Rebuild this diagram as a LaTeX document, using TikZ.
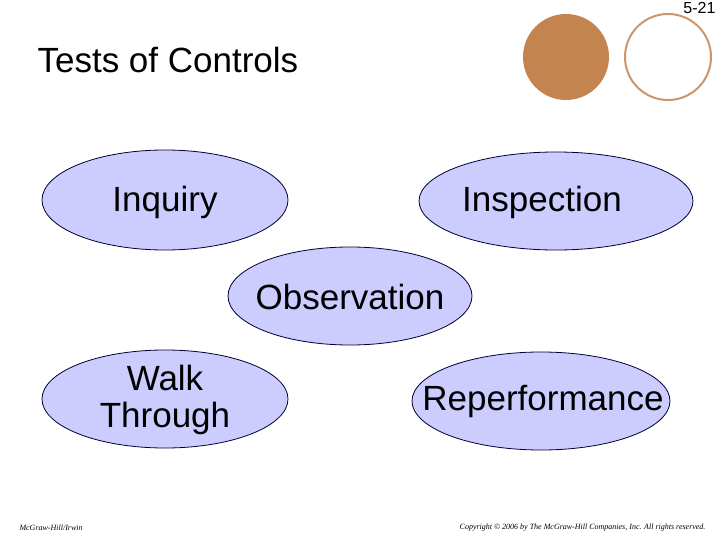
\documentclass[tikz,border=0pt]{standalone}
\usepackage{fontspec}
\setmainfont{Liberation Sans}
\newfontfamily\footfont{Liberation Serif}
\begin{document}
\begin{tikzpicture}[x=1pt,y=-1pt,
  ov/.style={draw=black!80!blue,line width=0.8pt,fill=blue!20!white},
  lbl/.style={font=\fontsize{35}{37}\selectfont,align=center},
  foot/.style={font=\footfont\itshape\fontsize{8}{9}\selectfont}]
\useasboundingbox (0,0) rectangle (720,540);
\definecolor{tan}{RGB}{196,132,80}
\node[circle,fill=tan,minimum size=86pt,inner sep=0pt] (c1) at (566,57) {};
\node[circle,draw=tan!85!white,line width=2pt,minimum size=86pt,inner sep=0pt] (c2) at (668,57) {};
\node[anchor=north east,font=\fontsize{16}{18}\selectfont] (num) at (719,-1) {5-21};
\node[anchor=west,font=\fontsize{35}{40}\selectfont] (title) at (34,60) {Tests of Controls};
\draw[ov] (165,200) ellipse (123 and 50);
\node[lbl] (inq) at (165,202) {Inquiry};
\draw[ov] (556,201) ellipse (137 and 49);
\node[lbl] (insp) at (542,202) {Inspection};
\draw[ov] (350,296) ellipse (122 and 49);
\node[lbl] (obs) at (350,297) {Observation};
\draw[ov] (165,399) ellipse (123 and 49);
\node[lbl] (walk) at (165,400) {Walk\\Through};
\draw[ov] (541,401) ellipse (129 and 49);
\node[lbl] (rep) at (543,401) {Reperformance};
\node[foot,anchor=west] (f1) at (16,528) {McGraw-Hill/Irwin};
\node[foot,anchor=east] (f2) at (709,528) {Copyright © 2006 by The McGraw-Hill Companies, Inc. All rights reserved.};
\end{tikzpicture}
\end{document}
